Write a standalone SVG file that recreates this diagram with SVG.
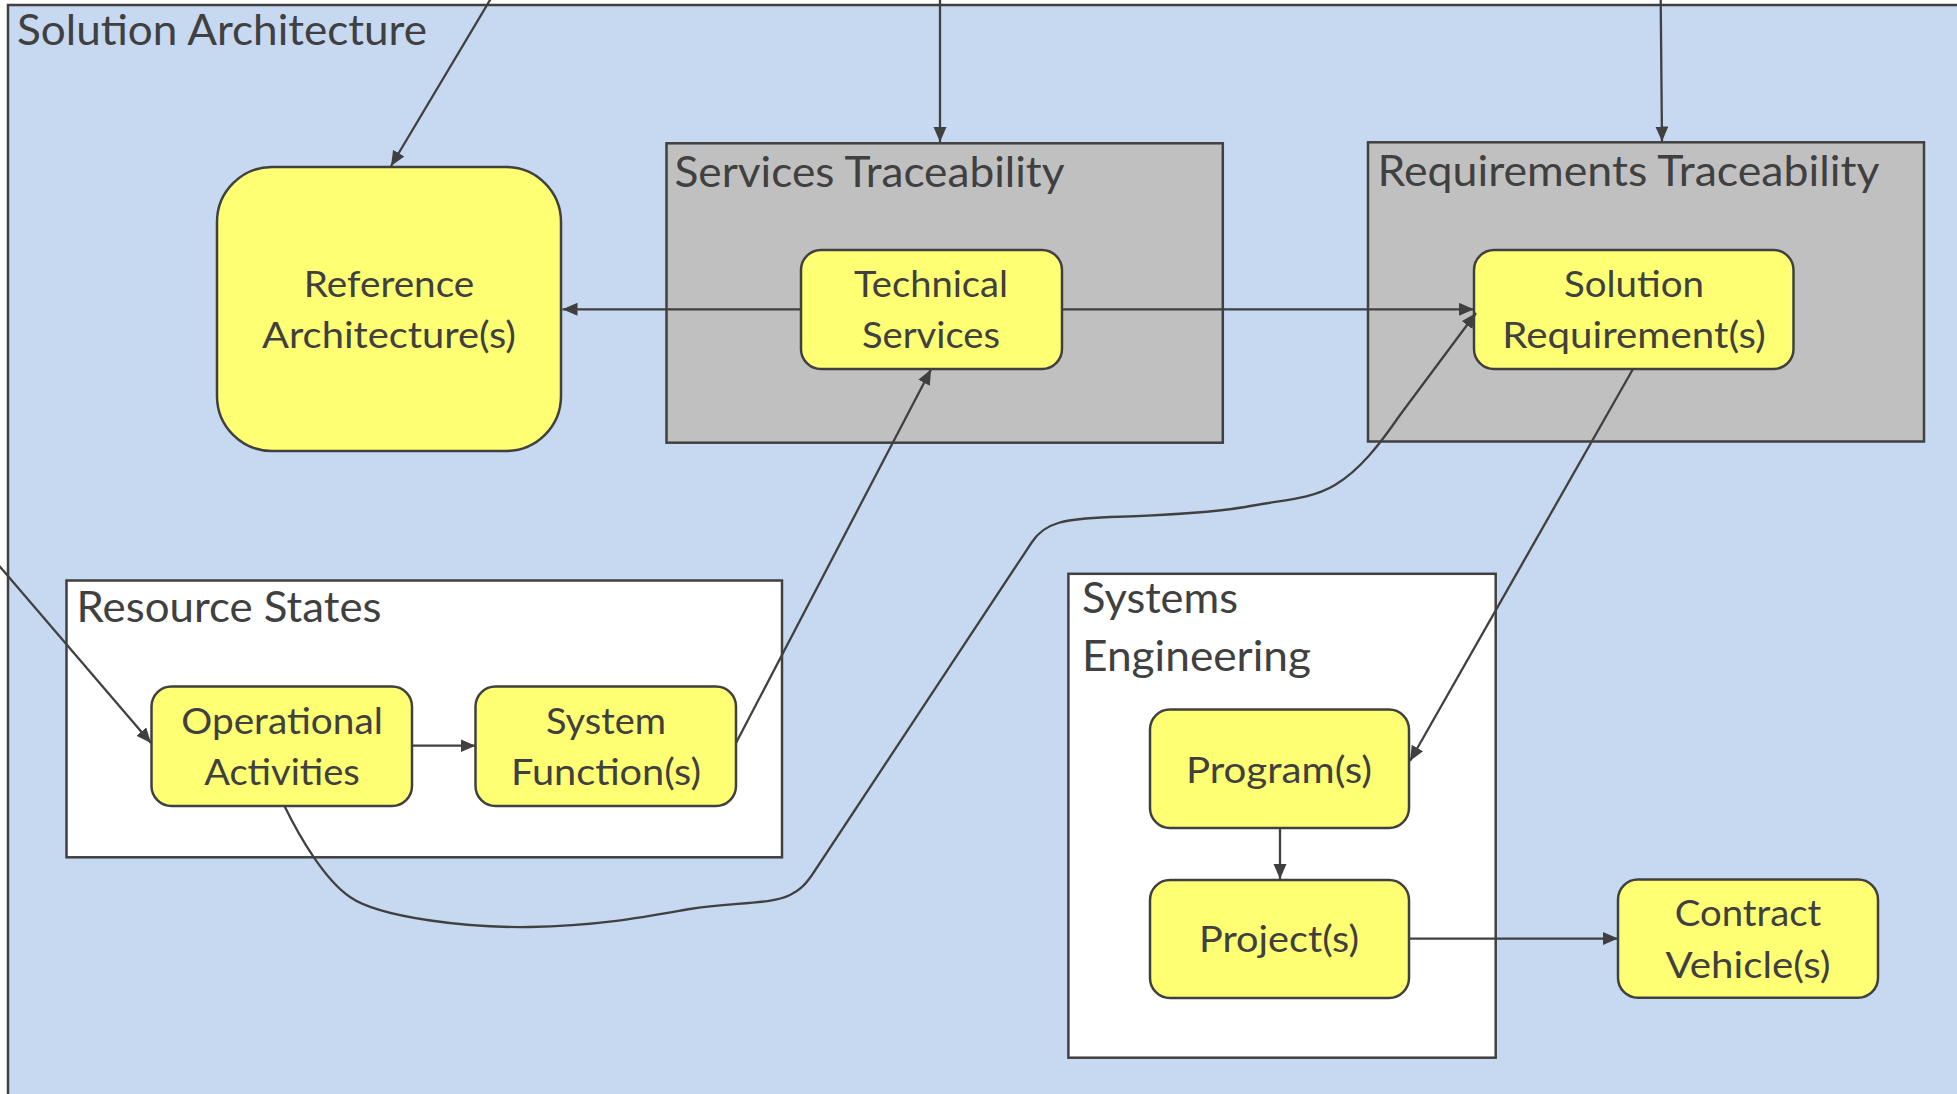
<svg xmlns="http://www.w3.org/2000/svg" width="1957" height="1094" viewBox="0 0 1957 1094">
  <defs>
    <marker id="arrow" markerUnits="userSpaceOnUse" markerWidth="16" markerHeight="14" refX="15" refY="6.5" orient="auto">
      <path d="M0,0 L15,6.5 L0,13 z" fill="#404040"/>
    </marker>
    <style>
      .frame { stroke: #404040; stroke-width: 2.5; }
      .area { fill: #c6d9f1; }
      .grey { fill: #c0c0c0; }
      .white { fill: #ffffff; }
      .node { fill: #ffff73; stroke: #404040; stroke-width: 2.5; }
      .title { font-family: Lato, "Liberation Sans", sans-serif; font-size: 43px; fill: #404040; }
      .label { font-family: Lato, "Liberation Sans", sans-serif; font-size: 37px; fill: #404040; }
      .edge { fill: none; stroke: #404040; stroke-width: 2.3; marker-end: url(#arrow); }
    </style>
  </defs>

  <!-- outer container -->
  <g id="solution-architecture">
    <rect class="area frame" x="8" y="5" width="2000" height="1200"/>
    <text class="title" x="17" y="45" textLength="410" lengthAdjust="spacingAndGlyphs">Solution Architecture</text>
  </g>

  <!-- grouping containers -->
  <g id="services-traceability">
    <rect class="grey frame" x="666.5" y="143.3" width="556.3" height="299.4"/>
    <text class="title" x="674.5" y="187" textLength="390" lengthAdjust="spacingAndGlyphs">Services Traceability</text>
  </g>
  <g id="requirements-traceability">
    <rect class="grey frame" x="1368" y="142.3" width="556" height="299.2"/>
    <text class="title" x="1377.5" y="186" textLength="502" lengthAdjust="spacingAndGlyphs">Requirements Traceability</text>
  </g>
  <g id="resource-states">
    <rect class="white frame" x="66.5" y="580.5" width="715.5" height="276.8"/>
    <text class="title" x="76.5" y="621.7" textLength="305" lengthAdjust="spacingAndGlyphs">Resource States</text>
  </g>
  <g id="systems-engineering">
    <rect class="white frame" x="1068.4" y="573.8" width="427.3" height="483.9"/>
    <text class="title" x="1082" y="612.5" textLength="156" lengthAdjust="spacingAndGlyphs">Systems</text>
    <text class="title" x="1082" y="670.7" textLength="229" lengthAdjust="spacingAndGlyphs">Engineering</text>
  </g>

  <!-- nodes -->
  <g id="reference-architecture">
    <rect class="node" x="217" y="167" width="344" height="284" rx="55" ry="55"/>
    <text class="label" x="303.8" y="297" textLength="170.5" lengthAdjust="spacingAndGlyphs">Reference</text>
    <text class="label" x="262" y="348" textLength="254" lengthAdjust="spacingAndGlyphs">Architecture(s)</text>
  </g>
  <g id="technical-services">
    <rect class="node" x="801" y="250" width="261" height="119" rx="20" ry="20"/>
    <text class="label" x="854" y="297" textLength="154" lengthAdjust="spacingAndGlyphs">Technical</text>
    <text class="label" x="862" y="348" textLength="138" lengthAdjust="spacingAndGlyphs">Services</text>
  </g>
  <g id="solution-requirements">
    <rect class="node" x="1474" y="250" width="319.5" height="119" rx="20" ry="20"/>
    <text class="label" x="1564" y="297" textLength="140" lengthAdjust="spacingAndGlyphs">Solution</text>
    <text class="label" x="1502.3" y="348" textLength="263.5" lengthAdjust="spacingAndGlyphs">Requirement(s)</text>
  </g>
  <g id="operational-activities">
    <rect class="node" x="151.5" y="686.5" width="260.5" height="119.5" rx="20" ry="20"/>
    <text class="label" x="181.3" y="734" textLength="201.5" lengthAdjust="spacingAndGlyphs">Operational</text>
    <text class="label" x="204.2" y="785" textLength="155.6" lengthAdjust="spacingAndGlyphs">Activities</text>
  </g>
  <g id="system-functions">
    <rect class="node" x="475.5" y="686.5" width="260.5" height="119.5" rx="20" ry="20"/>
    <text class="label" x="546" y="734" textLength="120" lengthAdjust="spacingAndGlyphs">System</text>
    <text class="label" x="511" y="785" textLength="190" lengthAdjust="spacingAndGlyphs">Function(s)</text>
  </g>
  <g id="programs">
    <rect class="node" x="1150" y="709.5" width="259" height="118.5" rx="20" ry="20"/>
    <text class="label" x="1186" y="783" textLength="186" lengthAdjust="spacingAndGlyphs">Program(s)</text>
  </g>
  <g id="projects">
    <rect class="node" x="1150" y="880" width="259" height="118" rx="20" ry="20"/>
    <text class="label" x="1199" y="951.7" textLength="160" lengthAdjust="spacingAndGlyphs">Project(s)</text>
  </g>
  <g id="contract-vehicles">
    <rect class="node" x="1618" y="879.5" width="260" height="118.2" rx="20" ry="20"/>
    <text class="label" x="1674.8" y="926" textLength="146.5" lengthAdjust="spacingAndGlyphs">Contract</text>
    <text class="label" x="1665.5" y="978" textLength="165" lengthAdjust="spacingAndGlyphs">Vehicle(s)</text>
  </g>

  <!-- connectors -->
  <g id="connectors">
    <path class="edge" d="M496,-10 L391,166"/>
    <path class="edge" d="M940,-10 L940,142"/>
    <path class="edge" d="M1660.6,-10 L1662,141.5"/>
    <path class="edge" d="M-10,555 L151,743"/>
    <path class="edge" d="M801,309.3 L562.5,309.3"/>
    <path class="edge" d="M1062,309.3 L1474,309.3"/>
    <path class="edge" d="M412,745.7 L475.5,745.7"/>
    <path class="edge" d="M736,743 L931,369.5"/>
    <path class="edge" d="M1633,369 L1410,761"/>
    <path class="edge" d="M1280,828 L1280,879"/>
    <path class="edge" d="M1409,938.6 L1618,938.6"/>
    <path class="edge" d="M284.5,806 C300,838 325,880 350,897 C380,918 470,928 530,927 C600,926 650,916 690,909 C730,902 770,905 790,895 C800,890 805,885 812,875 L1032,542 C1045,522 1065,519 1110,517 C1170,515 1215,512 1245,507 C1280,500 1310,500 1335,485 C1360,470 1380,444 1400,415 L1476,313"/>
  </g>
</svg>
